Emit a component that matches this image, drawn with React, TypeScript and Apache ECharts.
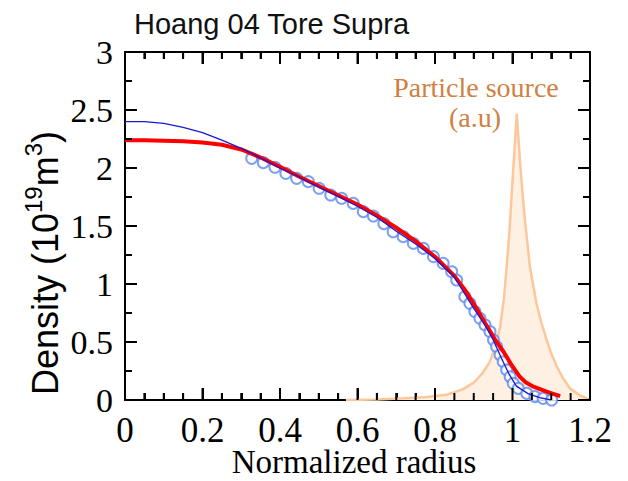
import React, { useEffect, useRef } from "react";
import * as echarts from "echarts";

const xTicks = { min: 0, max: 1.2, interval: 0.2 };
const yTicks = { min: 0, max: 3, interval: 0.5 };
const xMajorTicks = [0, 0.2, 0.4, 0.6, 0.8, 1, 1.2];
const xMinorTicks = [0.05, 0.1, 0.15, 0.25, 0.3, 0.35, 0.45, 0.5, 0.55, 0.65, 0.7, 0.75, 0.85, 0.9, 0.95, 1.05, 1.1, 1.15];
const yMajorTicks = [0, 0.5, 1, 1.5, 2, 2.5, 3];
const yMinorTicks = [0.25, 0.75, 1.25, 1.75, 2.25, 2.75];

const sourceCurve: [number, number][] = [
  [0.57, 0], [0.65, 0.005], [0.72, 0.015], [0.78, 0.025], [0.83, 0.045], [0.87, 0.09],
  [0.9, 0.15], [0.92, 0.22], [0.94, 0.32], [0.955, 0.45], [0.968, 0.63], [0.978, 0.88],
  [0.985, 1.15], [0.992, 1.45], [0.998, 1.78], [1.005, 2.15], [1.011, 2.47], [1.019, 2.07],
  [1.026, 1.78], [1.032, 1.55], [1.045, 1.15], [1.062, 0.83], [1.075, 0.66], [1.088, 0.52],
  [1.1, 0.4], [1.114, 0.29], [1.13, 0.19], [1.148, 0.1], [1.174, 0.04], [1.2, 0],
];

const redProfile: [number, number][] = [
  [0, 2.24], [0.05, 2.24], [0.1, 2.235], [0.15, 2.23], [0.2, 2.22], [0.25, 2.2],
  [0.3, 2.16], [0.35, 2.09], [0.4, 2.01], [0.45, 1.925], [0.5, 1.845], [0.55, 1.765],
  [0.6, 1.685], [0.65, 1.59], [0.7, 1.485], [0.75, 1.37], [0.8, 1.235], [0.85, 1.07],
  [0.875, 0.96], [0.9, 0.83], [0.93, 0.66], [0.959, 0.5], [0.976, 0.42], [0.998, 0.3],
  [1.019, 0.2], [1.035, 0.15], [1.054, 0.115], [1.088, 0.072], [1.123, 0.034],
];

const blueProfile: [number, number][] = [
  [0, 2.4], [0.05, 2.4], [0.1, 2.385], [0.15, 2.35], [0.2, 2.305], [0.25, 2.24],
  [0.3, 2.17], [0.35, 2.085], [0.4, 2.0], [0.45, 1.92], [0.5, 1.835], [0.55, 1.755],
  [0.6, 1.67], [0.65, 1.575], [0.7, 1.455], [0.75, 1.345], [0.8, 1.22], [0.85, 1.06],
  [0.9, 0.79], [0.93, 0.64], [0.95, 0.52], [0.97, 0.37], [0.99, 0.23], [1.01, 0.12],
  [1.04, 0.055], [1.07, 0.02], [1.1, 0.0],
];

const measuredPoints: [number, number][] = [
  [0.327, 2.083], [0.357, 2.046], [0.387, 2.006], [0.415, 1.954], [0.443, 1.911],
  [0.473, 1.882], [0.501, 1.825], [0.531, 1.767], [0.559, 1.739], [0.589, 1.695],
  [0.615, 1.624], [0.641, 1.586], [0.668, 1.52], [0.692, 1.45], [0.718, 1.408],
  [0.744, 1.351], [0.77, 1.307], [0.796, 1.236], [0.821, 1.178], [0.843, 1.106],
  [0.856, 1.034], [0.877, 0.891], [0.89, 0.833], [0.903, 0.761], [0.916, 0.704],
  [0.929, 0.647], [0.942, 0.589], [0.951, 0.517], [0.959, 0.46], [0.968, 0.388],
  [0.976, 0.33], [0.985, 0.259], [0.994, 0.2], [1.002, 0.144], [1.015, 0.1],
  [1.037, 0.057], [1.058, 0.029], [1.079, 0.014], [1.101, 0.0],
];

const titleText = "Hoang 04 Tore Supra";
const xName = "Normalized radius";
const sourceLabel = ["Particle source", "(a.u)"];

const SERIF = "'Liberation Serif', 'Times New Roman', serif";
const SANS = "'Liberation Sans', Arial, sans-serif";

function makeAxis(range: { min: number; max: number; interval: number }, minorSplit: number, label: any, extra: any) {
  return {
    type: "value",
    min: range.min,
    max: range.max,
    interval: range.interval,
    axisLine: { show: true, onZero: false, lineStyle: { color: "#000", width: 2 } },
    axisTick: { show: true, inside: true, length: 12, lineStyle: { color: "#000", width: 2 } },
    minorTick: { show: true, splitNumber: minorSplit, length: 7, lineStyle: { color: "#000", width: 2 } },
    splitLine: { show: false },
    axisLabel: label,
    ...extra,
  };
}

// tick rows: [kind (0 = x, 1 = y), value, major?]
const tickRows: number[][] = [
  ...xMajorTicks.map((v) => [0, v, 1]),
  ...xMinorTicks.map((v) => [0, v, 0]),
  ...yMajorTicks.map((v) => [1, v, 1]),
  ...yMinorTicks.map((v) => [1, v, 0]),
];

export default function App() {
  const ref = useRef<HTMLDivElement>(null);
  useEffect(() => {
    if (!ref.current) return;
    const chart = echarts.init(ref.current, null, { renderer: "svg" });
    const tickFill = { fill: "#000" };
    chart.setOption({
      animation: false,
      grid: { left: 125, right: 38, top: 52, bottom: 81 },
      xAxis: [
        makeAxis(xTicks, 4, { color: "#000", fontFamily: SERIF, fontSize: 35, margin: 13 }, {}),
        makeAxis(xTicks, 4, { show: false }, { position: "top" }),
      ],
      yAxis: [
        makeAxis(yTicks, 2, { color: "#000", fontFamily: SERIF, fontSize: 34, margin: 12 }, {}),
        makeAxis(yTicks, 2, { show: false }, { position: "right" }),
      ],
      series: [
        {
          type: "line",
          data: sourceCurve,
          showSymbol: false,
          lineStyle: { color: "#fcc79a", width: 2.5 },
          areaStyle: { color: "#fef0e3", opacity: 1 },
          z: 1,
        },
        {
          type: "scatter",
          data: measuredPoints,
          symbol: "emptyCircle",
          symbolSize: 11,
          itemStyle: { color: "#5b89ee", borderColor: "#5b89ee", borderWidth: 1.8 },
          z: 2,
        },
        {
          type: "line",
          data: redProfile,
          showSymbol: false,
          lineStyle: { color: "#ff0000", width: 4 },
          z: 3,
        },
        {
          type: "line",
          data: blueProfile,
          showSymbol: false,
          lineStyle: { color: "#1a1ad0", width: 1.3 },
          z: 4,
        },
        {
          type: "custom",
          data: tickRows,
          clip: false,
          silent: true,
          z: 6,
          renderItem: (_params: any, api: any) => {
            const kind = api.value(0);
            const v = api.value(1);
            const len = api.value(2) ? 12 : 7;
            if (kind === 0) {
              const pb = api.coord([v, yTicks.min]);
              const pt = api.coord([v, yTicks.max]);
              return {
                type: "group",
                children: [
                  { type: "rect", shape: { x: pb[0] - 1, y: pb[1] - len, width: 2, height: len }, style: tickFill },
                  { type: "rect", shape: { x: pt[0] - 1, y: pt[1], width: 2, height: len }, style: tickFill },
                ],
              };
            }
            const pl = api.coord([xTicks.min, v]);
            const pr = api.coord([xTicks.max, v]);
            return {
              type: "group",
              children: [
                { type: "rect", shape: { x: pl[0], y: pl[1] - 1, width: len, height: 2 }, style: tickFill },
                { type: "rect", shape: { x: pr[0] - len, y: pr[1] - 1, width: len, height: 2 }, style: tickFill },
              ],
            };
          },
        },
      ],
      graphic: [
        {
          type: "text",
          left: 134,
          top: 9,
          style: { text: titleText, font: `29px ${SANS}`, fill: "#111" },
        },
        {
          type: "text",
          x: 354,
          y: 462,
          style: { text: xName, font: `33px ${SERIF}`, fill: "#000", align: "center", verticalAlign: "middle" },
        },
        {
          type: "text",
          x: 476,
          y: 87,
          style: { text: sourceLabel[0], font: `28px ${SERIF}`, fill: "#d08040", align: "center", verticalAlign: "middle" },
        },
        {
          type: "text",
          x: 475,
          y: 117,
          style: { text: sourceLabel[1], font: `28px ${SERIF}`, fill: "#d08040", align: "center", verticalAlign: "middle" },
        },
        {
          type: "text",
          x: 42,
          y: 263,
          rotation: Math.PI / 2,
          style: {
            text: "{a|Density (10}{s|19}{a|m}{s|3}{a|)}",
            align: "center",
            verticalAlign: "middle",
            rich: {
              a: { fontFamily: SANS, fontSize: 36, fill: "#000", color: "#000", verticalAlign: "bottom", lineHeight: 42 },
              s: { fontFamily: SANS, fontSize: 24, fill: "#000", color: "#000", verticalAlign: "top", lineHeight: 42 },
            },
          },
        },
      ],
    });
    return () => chart.dispose();
  }, []);
  return (
    <div
      ref={ref}
      style={{ position: "fixed", left: 0, top: 0, width: 628, height: 481, background: "#fff" }}
    />
  );
}
